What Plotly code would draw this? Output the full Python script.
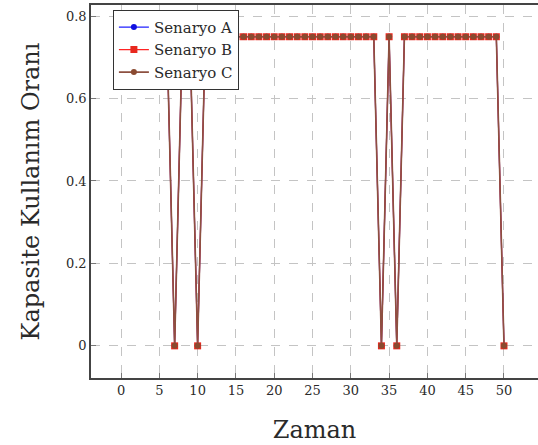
import plotly.graph_objects as go

# Time steps and capacity utilisation ratios for each scenario
zaman = list(range(1, 51))
senaryo_a = [0.75, 0.75, 0.75, 0.75, 0.75, 0.75, 0.0, 0.75, 0.75, 0.0,
             0.75, 0.75, 0.75, 0.75, 0.75, 0.75, 0.75, 0.75, 0.75, 0.75,
             0.75, 0.75, 0.75, 0.75, 0.75, 0.75, 0.75, 0.75, 0.75, 0.75,
             0.75, 0.75, 0.75, 0.0, 0.75, 0.0, 0.75, 0.75, 0.75, 0.75,
             0.75, 0.75, 0.75, 0.75, 0.75, 0.75, 0.75, 0.75, 0.75, 0.0]
senaryo_b = [0.75, 0.75, 0.75, 0.75, 0.75, 0.75, 0.0, 0.75, 0.75, 0.0,
             0.75, 0.75, 0.75, 0.75, 0.75, 0.75, 0.75, 0.75, 0.75, 0.75,
             0.75, 0.75, 0.75, 0.75, 0.75, 0.75, 0.75, 0.75, 0.75, 0.75,
             0.75, 0.75, 0.75, 0.0, 0.75, 0.0, 0.75, 0.75, 0.75, 0.75,
             0.75, 0.75, 0.75, 0.75, 0.75, 0.75, 0.75, 0.75, 0.75, 0.0]
senaryo_c = [0.75, 0.75, 0.75, 0.75, 0.75, 0.75, 0.0, 0.75, 0.75, 0.0,
             0.75, 0.75, 0.75, 0.75, 0.75, 0.75, 0.75, 0.75, 0.75, 0.75,
             0.75, 0.75, 0.75, 0.75, 0.75, 0.75, 0.75, 0.75, 0.75, 0.75,
             0.75, 0.75, 0.75, 0.0, 0.75, 0.0, 0.75, 0.75, 0.75, 0.75,
             0.75, 0.75, 0.75, 0.75, 0.75, 0.75, 0.75, 0.75, 0.75, 0.0]

x_ticks = [0, 5, 10, 15, 20, 25, 30, 35, 40, 45, 50]
y_ticks = [0, 0.2, 0.4, 0.6, 0.8]
y_tick_labels = ["0", "0.2", "0.4", "0.6", "0.8"]

SERIF = "DejaVu Serif, Liberation Serif, serif"
TEXT = "#2a2a2a"

fig = go.Figure()
fig.add_trace(go.Scatter(
    x=zaman, y=senaryo_a, name="Senaryo A", mode="lines+markers",
    line=dict(color="#2020ff", width=1.2),
    marker=dict(symbol="circle", size=6, color="#1010e0"),
))
fig.add_trace(go.Scatter(
    x=zaman, y=senaryo_b, name="Senaryo B", mode="lines+markers",
    line=dict(color="#ff2424", width=1.2),
    marker=dict(symbol="square", size=7, color="#e8281e"),
))
fig.add_trace(go.Scatter(
    x=zaman, y=senaryo_c, name="Senaryo C", mode="lines+markers",
    line=dict(color="#8d5040", width=1.6),
    marker=dict(symbol="circle", size=6, color="#8a4a30"),
))

fig.update_layout(
    width=538, height=445,
    margin=dict(l=91, r=0, t=5, b=67),
    paper_bgcolor="white", plot_bgcolor="white",
    font=dict(family=SERIF, color=TEXT, size=13),
    showlegend=True,
    legend=dict(
        x=0.049, y=0.987, xanchor="left", yanchor="top",
        bgcolor="white", bordercolor="#333333", borderwidth=1,
        font=dict(family=SERIF, size=15, color=TEXT),
        tracegroupgap=0, itemwidth=30,
    ),
    xaxis=dict(
        range=[-3.92, 54.44],
        tickmode="array", tickvals=x_ticks,
        ticks="inside", ticklen=5, tickcolor="#777777",
        showline=True, linecolor="#444444", linewidth=1.5, mirror=True,
        showgrid=True, gridcolor="#c4c4c4", griddash="dash", gridwidth=1,
        zeroline=False,
        title=dict(text="Zaman", font=dict(family=SERIF, size=24, color=TEXT), standoff=24),
        tickfont=dict(family=SERIF, size=13, color=TEXT),
    ),
    yaxis=dict(
        range=[-0.078, 0.827],
        tickmode="array", tickvals=y_ticks, ticktext=y_tick_labels,
        ticks="inside", ticklen=5, tickcolor="#777777",
        showline=True, linecolor="#444444", linewidth=1.5, mirror=False,
        showgrid=True, gridcolor="#c4c4c4", griddash="dash", gridwidth=1,
        zeroline=False,
        title=dict(text="Kapasite Kullanım Oranı", font=dict(family=SERIF, size=24, color=TEXT), standoff=20),
        tickfont=dict(family=SERIF, size=13, color=TEXT),
    ),
)

fig.write_html("out.html")
